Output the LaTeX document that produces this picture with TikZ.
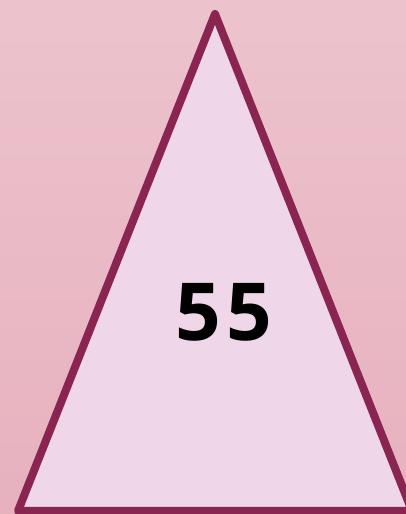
\documentclass[tikz,border=0pt]{standalone}
\usepackage{fontspec}
\newfontfamily\numfont{Open Sans}
\definecolor{bgtop}{HTML}{ECC3CD}
\definecolor{bgbot}{HTML}{E7B1BE}
\definecolor{edge}{HTML}{8A2450}
\definecolor{inside}{HTML}{F0D6E9}
\begin{document}
\begin{tikzpicture}[x=1pt, y=1pt]
  \useasboundingbox (0,0) rectangle (406,514);
  \clip (0,0) rectangle (406,514);
  \shade[top color=bgtop, bottom color=bgbot] (0,0) rectangle (406,514);
  % triangle
  \coordinate (top) at (215,500);
  \coordinate (bl) at (18,3);
  \coordinate (br) at (412,3);
  \draw[edge, fill=inside, line width=8pt, line join=round] (top) -- (bl) -- (br) -- cycle;
  \node (num) at (224,201.5) {\numfont\bfseries\fontsize{80}{90}\selectfont 5\kern5pt5};
\end{tikzpicture}
\end{document}
